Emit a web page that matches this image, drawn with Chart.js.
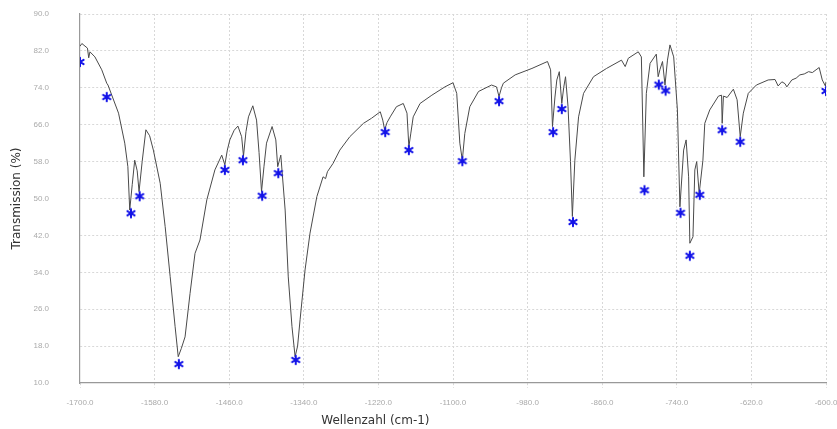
<!DOCTYPE html>
<html>
<head>
<meta charset="utf-8">
<script src="https://cdn.jsdelivr.net/npm/chart.js@4"></script>
<style>
  body { margin: 0; background: #fff; }
</style>
</head>
<body>
<canvas id="spectrum" width="837" height="429"></canvas>
<script>

const xTickLabels = ['-1700.0', '-1580.0', '-1460.0', '-1340.0', '-1220.0', '-1100.0', '-980.0', '-860.0', '-740.0', '-620.0', '-600.0'];

const waveX = [
  -1700, -1697, -1688, -1686, -1684, -1676, -1665, -1657, -1655, -1638, -1628, -1623, -1620, -1616, -1612, -1608, -1605, -1600, -1594, -1588,
  -1582, -1571, -1563, -1555, -1547, -1542, -1537, -1531, -1523, -1515, -1507, -1496, -1483, -1472, -1467, -1463, -1459, -1452, -1446, -1440,
  -1437, -1433, -1429, -1422, -1416, -1412, -1408, -1404, -1400, -1391, -1385, -1382, -1377, -1370, -1365, -1359, -1354, -1350, -1346, -1338,
  -1330, -1319, -1309, -1305, -1302, -1293, -1282, -1266, -1244, -1231, -1217, -1213, -1210, -1206, -1201, -1191, -1180, -1174, -1171, -1168,
  -1164, -1153, -1134, -1113, -1100, -1094, -1089, -1085, -1081, -1073, -1059, -1038, -1030, -1026, -1022, -1019, -1000, -973, -948, -943,
  -940, -936, -933, -929, -925, -922, -919, -915, -911, -908, -904, -898, -890, -874, -853, -829, -823, -818, -802, -797,
  -793, -789, -783, -773, -770, -767, -763, -759, -755, -751, -745, -739, -735, -729, -725, -721, -719, -714, -711, -708,
  -704, -698, -695, -687, -673, -668, -667, -665, -659, -649, -643, -638, -633, -625, -612, -593, -582, -577, -571, -566,
  -563, -555, -548, -542, -535, -528, -522, -516, -511, -506, -501, -500
];

const transmission = [
  83.0, 83.6, 82.6, 80.5, 81.8, 80.7, 77.9, 75.0, 74.6, 68.5, 62.0, 56.9, 47.5, 53.0, 58.3, 56.0, 51.5, 58.0, 64.9, 63.6,
  60.5, 53.3, 43.9, 33.1, 22.2, 15.7, 17.5, 20.0, 29.4, 38.1, 41.0, 49.7, 56.2, 59.4, 57.3, 60.5, 62.7, 64.8, 65.7, 63.4,
  59.2, 64.5, 67.7, 70.1, 67.0, 60.0, 51.5, 57.0, 62.0, 65.6, 62.7, 56.9, 59.4, 47.5, 33.0, 22.2, 15.7, 18.0, 23.7, 34.5,
  42.5, 50.4, 54.7, 54.3, 55.8, 57.6, 60.5, 63.4, 66.3, 67.4, 68.8, 67.0, 64.9, 66.5, 67.7, 69.9, 70.6, 68.5, 61.2, 64.0,
  67.7, 70.6, 72.4, 74.2, 75.1, 72.8, 62.0, 58.3, 64.1, 69.9, 73.2, 74.6, 74.2, 72.1, 74.0, 75.0, 76.8, 78.2, 79.7, 77.9,
  65.6, 72.0, 75.7, 77.5, 70.6, 74.0, 76.4, 70.0, 58.0, 46.1, 58.3, 67.7, 72.8, 76.4, 78.2, 80.0, 78.6, 80.4, 81.8, 80.7,
  54.7, 72.8, 79.3, 81.3, 76.4, 78.0, 79.7, 74.6, 80.0, 83.3, 80.7, 69.2, 48.2, 60.5, 62.7, 54.7, 40.3, 41.7, 56.2, 58.0,
  51.1, 58.3, 66.3, 69.2, 72.2, 72.4, 66.3, 72.2, 71.9, 73.7, 71.4, 63.4, 68.5, 72.8, 74.6, 75.7, 75.8, 74.4, 75.3, 74.9,
  74.2, 75.7, 76.1, 76.8, 77.0, 77.5, 77.3, 77.9, 78.4, 75.7, 74.4, 75.3
];

const peakX = [-1700, -1657, -1618, -1604, -1541, -1467, -1438, -1407, -1381, -1353, -1209, -1171, -1085, -1026, -939, -925, -907, -792, -769, -758, -734, -719, -703, -667, -638, -500];
const peakY = [79.6, 72.0, 46.8, 50.5, 14.1, 56.2, 58.3, 50.6, 55.5, 15.0, 64.4, 60.5, 58.1, 71.1, 64.4, 69.4, 44.9, 51.8, 74.7, 73.4, 46.9, 37.6, 50.8, 64.8, 62.3, 73.3];

// little blue asterisk used as the peak marker
const star = document.createElement('canvas');
star.width = 12;
star.height = 12;
const sctx = star.getContext('2d');
sctx.strokeStyle = '#1414e8';
sctx.lineWidth = 2;
sctx.lineCap = 'round';
for (let k = 0; k < 3; k++) {
  const a = Math.PI / 2 + k * Math.PI / 3;
  sctx.beginPath();
  sctx.moveTo(6 + 4.2 * Math.cos(a), 6 - 4.2 * Math.sin(a));
  sctx.lineTo(6 - 4.2 * Math.cos(a), 6 + 4.2 * Math.sin(a));
  sctx.stroke();
}

const xTitle = {
  id: 'xTitle',
  afterDraw(chart) {
    const { ctx, chartArea } = chart;
    ctx.save();
    ctx.font = '12px "DejaVu Sans"';
    ctx.fillStyle = '#333';
    ctx.textAlign = 'center';
    ctx.textBaseline = 'middle';
    ctx.fillText('Wellenzahl (cm-1)', chartArea.left + (chartArea.right - chartArea.left) * 0.396, 421);
    ctx.restore();
  }
};

// dotted grid lines, solid axis line; skip the grid line that sits on the other axis
const gridDash = c => c.type === 'tick' ? [2, 2] : [];
const gridColor = c => c.index === 0 ? 'rgba(0,0,0,0)' : '#d8d8d8';

const ctx = document.getElementById('spectrum');

new Chart(ctx, {
  type: 'scatter',
  data: {
    datasets: [
      {
        label: 'Peaks',
        data: peakX.map((x, i) => ({ x: x, y: peakY[i] })),
        pointStyle: star,
        pointRadius: 6,
        order: 1
      },
      {
        label: 'Spektrum',
        type: 'line',
        data: waveX.map((x, i) => ({ x: x, y: transmission[i] })),
        borderColor: '#4a4a4a',
        borderWidth: 1,
        pointRadius: 0,
        tension: 0,
        order: 2
      }
    ]
  },
  plugins: [xTitle],
  options: {
    responsive: false,
    animation: false,
    layout: { padding: { top: 14, right: 11, left: 0, bottom: 0 } },
    plugins: {
      legend: { display: false },
      tooltip: { enabled: false }
    },
    scales: {
      x: {
        type: 'linear',
        min: -1700,
        max: -500,
        border: { color: '#999', width: 1.2, dash: gridDash },
        grid: { color: gridColor, tickLength: 5, tickBorderDash: [2, 2], tickColor: '#d8d8d8' },
        ticks: {
          stepSize: 120,
          padding: 10,
          maxRotation: 0,
          color: '#aaa',
          font: { family: 'Liberation Sans', size: 8 },
          callback: (v, i) => xTickLabels[i]
        },
        afterFit(scale) {
          scale.height = 46;
          scale.paddingRight = 0;
        }
      },
      y: {
        min: 10,
        max: 90,
        border: { color: '#999', width: 1.2, dash: gridDash },
        grid: { color: gridColor, drawTicks: false },
        ticks: {
          stepSize: 8,
          padding: 31,
          color: '#aaa',
          font: { family: 'Liberation Sans', size: 8 },
          callback: v => v.toFixed(1)
        },
        title: {
          display: true,
          text: 'Transmission (%)',
          color: '#333',
          font: { family: 'DejaVu Sans', size: 12 },
          padding: { top: 10, bottom: 0 }
        },
        afterFit(scale) {
          scale.width = 80;
          scale.paddingTop = 0;
          scale.paddingBottom = 0;
        }
      }
    }
  }
});
</script>
</body>
</html>
